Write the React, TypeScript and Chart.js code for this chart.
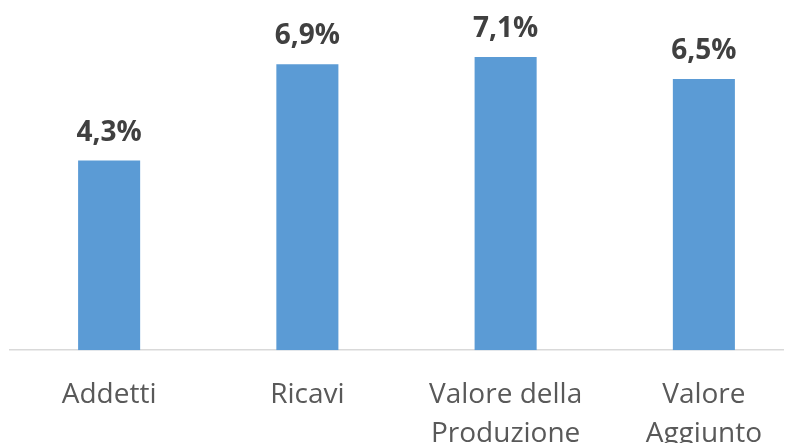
import React, { useEffect, useRef } from "react";
import { Chart, registerables } from "chart.js";

Chart.register(...registerables);

const categories: (string | string[])[] = [
  "Addetti",
  "Ricavi",
  ["Valore della", "Produzione"],
  ["Valore", "Aggiunto"],
];
const values: number[] = [4.3, 6.9, 7.1, 6.5];
const axisMin = -0.82;
const axisMax = 8.42;

const FONT = "'Open Sans', 'DejaVu Sans', sans-serif";

const labelPlugin = {
  id: "barLabels",
  afterDatasetsDraw(chart: any) {
    const ctx = chart.ctx;
    const meta = chart.getDatasetMeta(0);
    ctx.save();
    ctx.font = `bold 28px ${FONT}`;
    ctx.fillStyle = "#404040";
    ctx.textAlign = "center";
    ctx.textBaseline = "alphabetic";
    meta.data.forEach((bar: any, i: number) => {
      const txt = values[i].toFixed(1).replace(".", ",") + "%";
      ctx.fillText(txt, bar.x, bar.y - 20);
    });
    ctx.restore();
  },
};

export default function App() {
  const ref = useRef<HTMLCanvasElement>(null);
  useEffect(() => {
    if (!ref.current) return;
    const chart = new Chart(ref.current, {
      type: "bar",
      data: {
        labels: categories,
        datasets: [
          {
            data: values,
            backgroundColor: "#5B9BD5",
            borderWidth: 0,
            base: axisMin,
            barPercentage: 0.313,
            categoryPercentage: 1,
          } as any,
        ],
      },
      options: {
        animation: false,
        responsive: false,
        maintainAspectRatio: false,
        layout: { padding: { left: 2, right: 5, top: 0, bottom: 0 } },
        plugins: {
          legend: { display: false },
          tooltip: { enabled: false },
        },
        scales: {
          x: {
            grid: { display: false, drawTicks: false },
            border: { display: true, color: "#d9d9d9", width: 1.5 },
            ticks: {
              color: "#595959",
              font: { family: FONT, size: 28, lineHeight: 1.39 },
              padding: 25,
              maxRotation: 0,
              autoSkip: false,
            },
          },
          y: {
            display: false,
            min: axisMin,
            max: axisMax,
          },
        },
      },
      plugins: [labelPlugin],
    });
    return () => chart.destroy();
  }, []);
  return (
    <div style={{ width: 784, height: 435, overflow: "hidden", position: "relative" }}>
      <canvas ref={ref} width={800} height={470} style={{ display: "block", width: 800, height: 470 }} />
    </div>
  );
}
